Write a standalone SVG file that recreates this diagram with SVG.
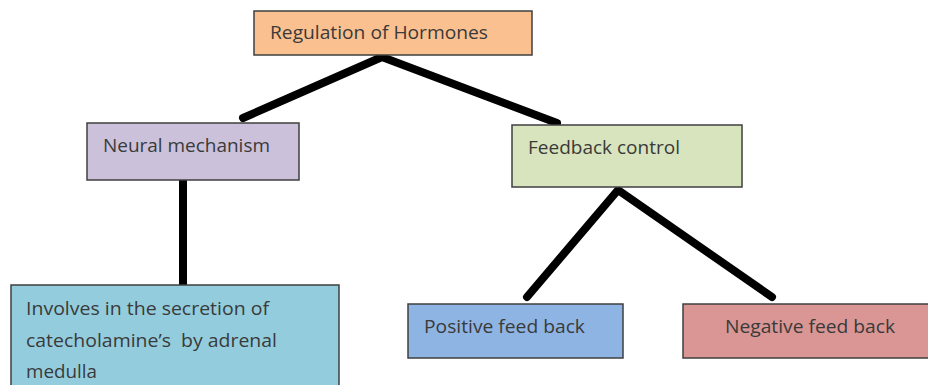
<svg xmlns="http://www.w3.org/2000/svg" width="928" height="385" viewBox="0 0 928 385">
<style>
.box{stroke:#3f3f3f;stroke-width:1.5}
.t{font-family:"Open Sans","Noto Sans","Liberation Sans",sans-serif;font-size:18px;fill:#3a3a3a}
.c{stroke:#000;stroke-width:8;stroke-linecap:round;stroke-linejoin:round;fill:none}
</style>
<rect width="928" height="385" fill="#fff"/>
<g id="connectors">
<polyline class="c" points="243,118 382,57 557,123"/>
<line class="c" x1="183" y1="181" x2="183" y2="285"/>
<polyline class="c" points="527,297 618,190 772,297"/>
</g>
<g id="regulation">
<rect class="box" x="254" y="11" width="278" height="44" fill="#FAC090"/>
<text class="t" x="270" y="39" textLength="218" lengthAdjust="spacingAndGlyphs">Regulation of Hormones</text>
</g>
<g id="neural">
<rect class="box" x="87" y="123" width="212" height="57" fill="#CCC1DA"/>
<text class="t" x="103" y="152" textLength="167" lengthAdjust="spacingAndGlyphs">Neural mechanism</text>
</g>
<g id="feedback">
<rect class="box" x="512" y="125" width="230" height="62" fill="#D7E4BD"/>
<text class="t" x="528" y="154" textLength="152" lengthAdjust="spacingAndGlyphs">Feedback control</text>
</g>
<g id="involves">
<rect class="box" x="11" y="285" width="328" height="110" fill="#93CDDD"/>
<text class="t" x="26" y="315" textLength="243" lengthAdjust="spacingAndGlyphs">Involves in the secretion of</text>
<text class="t" x="26" y="347" textLength="251" lengthAdjust="spacingAndGlyphs">catecholamine’s&#160; by adrenal</text>
<text class="t" x="26" y="378" textLength="71" lengthAdjust="spacingAndGlyphs">medulla</text>
</g>
<g id="positive">
<rect class="box" x="408" y="304" width="215" height="54" fill="#8EB4E3"/>
<text class="t" x="424" y="333" textLength="161" lengthAdjust="spacingAndGlyphs">Positive feed back</text>
</g>
<g id="negative">
<rect class="box" x="683" y="304" width="250" height="54" fill="#D99694"/>
<text class="t" x="725" y="333" textLength="170" lengthAdjust="spacingAndGlyphs">Negative feed back</text>
</g>
</svg>
